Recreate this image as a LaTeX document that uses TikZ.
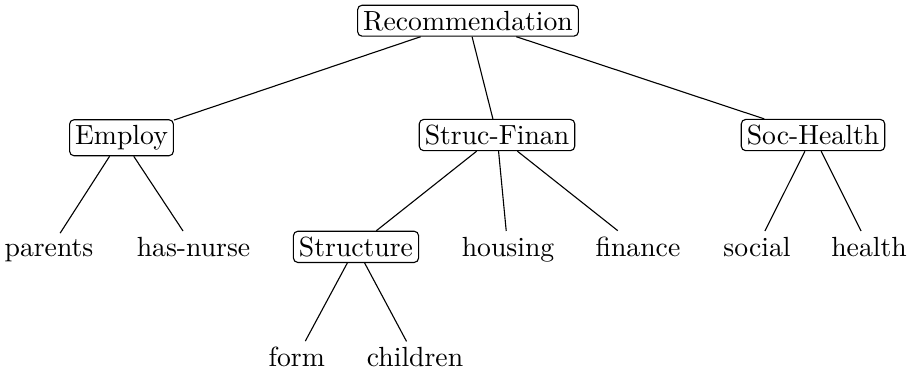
\documentclass[tikz,border=0pt]{standalone}
\begin{document}
\begin{tikzpicture}[x=0.361pt,y=-0.361pt,
  inner/.style={draw,rounded corners=1.6pt,inner sep=2pt,anchor=base,line width=0.4pt},
  leaf/.style={inner sep=2pt,anchor=base},
  edge/.style={line width=0.4pt}]
\useasboundingbox (0,0) rectangle (913,372);
% level 0
\node[inner] (rec) at (468,30) {Recommendation};
% level 1
\node[inner] (emp) at (121.5,144.5) {Employ};
\node[inner] (sf)  at (497,144.5) {Struc-Finan};
\node[inner] (sh)  at (813,144.5) {Soc-Health};
% level 2
\node[leaf]  (par) at (49,256.3) {parents};
\node[leaf]  (hn)  at (193.5,256.3) {has-nurse};
\node[inner] (str) at (356,256.3) {Structure};
\node[leaf]  (hou) at (508,256.3) {housing};
\node[leaf]  (fin) at (638,256.3) {finance};
\node[leaf]  (soc) at (757,256.3) {social};
\node[leaf]  (hea) at (869,256.3) {health};
% level 3
\node[leaf]  (frm) at (296.7,366.7) {form};
\node[leaf]  (chi) at (415,366.7) {children};
% edges
\draw[edge] (rec) -- (emp);
\draw[edge] (rec) -- (sf);
\draw[edge] (rec) -- (sh);
\draw[edge] (emp) -- (par);
\draw[edge] (emp) -- (hn);
\draw[edge] (sf) -- (str);
\draw[edge] (sf) -- (hou);
\draw[edge] (sf) -- (fin);
\draw[edge] (sh) -- (soc);
\draw[edge] (sh) -- (hea);
\draw[edge] (str) -- (frm);
\draw[edge] (str) -- (chi);
\end{tikzpicture}
\end{document}
